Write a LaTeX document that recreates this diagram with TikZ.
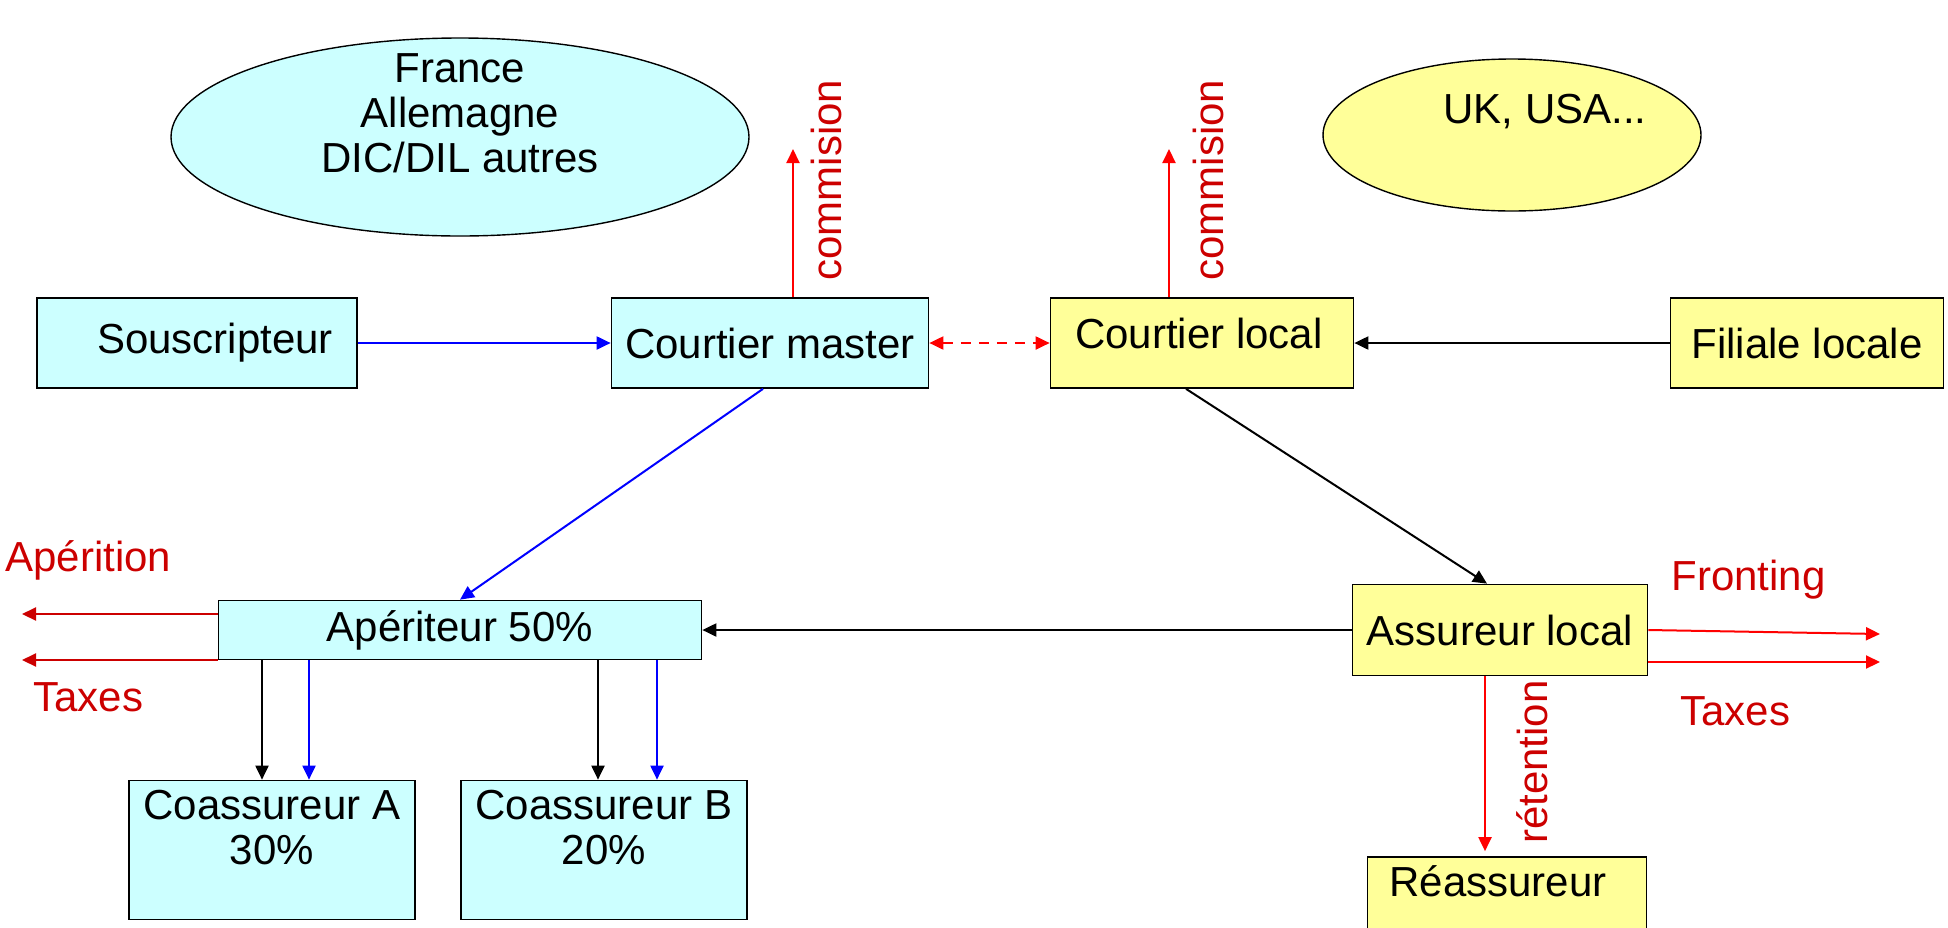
\documentclass[tikz,border=0pt]{standalone}
\usepackage{fontspec}
\setmainfont{Liberation Sans}
\usetikzlibrary{arrows.meta,shapes.geometric}
\definecolor{boxcyan}{HTML}{CCFFFF}
\definecolor{boxyellow}{HTML}{FFFF99}
\definecolor{txtred}{HTML}{CC0000}
\definecolor{arrred}{HTML}{FF0000}
\definecolor{arrblue}{HTML}{0000FF}
\begin{document}
\begin{tikzpicture}[x = 0.5pt, y = -0.5pt, font = \fontsize{21}{22.5}\selectfont,
		>= {Triangle[length=7pt, width=6.5pt]},
		box/.style = {draw, line width=0.85pt, inner sep=0pt, align=center},
		zone/.style = {draw, ellipse, line width=0.7pt, inner sep=0pt},
		flow/.style = {->, line width=1pt},
		lbl/.style = {text=txtred, inner sep=0pt}]
			\useasboundingbox (0,0) rectangle (1948,927);
			\node[zone, fill = boxcyan, minimum width = 289pt, minimum height = 99pt] (10) at (460,137) {};
			\node[align = center] (11) at (460,113) {France\\Allemagne\\DIC/DIL autres};
			\node[zone, fill = boxyellow, minimum width = 189pt, minimum height = 76pt] (12) at (1512,135) {};
			\node (13) at (1545,112) {UK, USA...};
			\node[box, fill = boxcyan, minimum width = 160pt, minimum height = 45pt] (1) at (197,343) {\hspace{18pt}Souscripteur};
			\node[box, fill = boxcyan, minimum width = 158.5pt, minimum height = 45pt] (2) at (770,343) {Courtier master};
			\node[box, fill = boxyellow, minimum width = 151.5pt, minimum height = 45pt, text depth = 10pt] (3) at (1202,343) {Courtier local\hspace{3pt}};
			\node[box, fill = boxyellow, minimum width = 136.5pt, minimum height = 45pt] (4) at (1807,343) {Filiale locale};
			\node[box, fill = boxcyan, minimum width = 241.5pt, minimum height = 29.5pt] (5) at (460,630) {Apériteur 50\%};
			\node[box, fill = boxcyan, minimum width = 143pt, minimum height = 69.5pt] (6) at (272,850) {Coassureur A\\30\%\\\mbox{}};
			\node[box, fill = boxcyan, minimum width = 143pt, minimum height = 69.5pt] (7) at (604,850) {Coassureur B\\20\%\\\mbox{}};
			\node[box, fill = boxyellow, minimum width = 147.5pt, minimum height = 45.5pt] (8) at (1500,630) {Assureur local};
			\node[box, fill = boxyellow, minimum width = 139.5pt, minimum height = 36pt, text depth = 12pt] (9) at (1507,893) {Réassureur\hspace{9pt}};
			\node[lbl, rotate = 90] (14) at (826,180) {commision};
			\node[lbl, rotate = 90] (15) at (1208,180) {commision};
			\node[lbl, rotate = 90] (16) at (1532,762) {rétention};
			\node[lbl, anchor = west] (17) at (5,560) {Apérition};
			\node[lbl, anchor = west] (18) at (33,697) {Taxes};
			\node[lbl, anchor = west] (19) at (1671,580) {Fronting};
			\node[lbl, anchor = west] (20) at (1680,711) {Taxes};
			\coordinate (c1) at (793,149);
			\coordinate (c2) at (1169,149);
			\coordinate (a1) at (22,614);
			\coordinate (a2) at (22,660);
			\coordinate (f1) at (1880,634);
			\coordinate (f2) at (1880,662);
			\coordinate (k1) at (262,0);
			\coordinate (k2) at (309,0);
			\coordinate (k3) at (598,0);
			\coordinate (k4) at (657,0);
			\coordinate (r1) at (1485,0);
			\draw[flow, arrblue] (1) -- (2);
			\draw[flow, <->, arrred, dash pattern = on 5pt off 4pt] (2) -- (3);
			\draw[flow] (4) -- (3);
			\draw[flow, arrblue] ([xshift = -3.5pt]2.south) -- (5.north);
			\draw[flow] ([xshift = -8pt]3.south) -- ([xshift = -6.5pt]8.north);
			\draw[flow] (8) -- (5);
			\draw[flow] (5.south -| k1) -- (6.north -| k1);
			\draw[flow, arrblue] (5.south -| k2) -- (6.north -| k2);
			\draw[flow] (5.south -| k3) -- (7.north -| k3);
			\draw[flow, arrblue] (5.south -| k4) -- (7.north -| k4);
			\draw[flow, arrred] (2.north -| c1) -- (c1);
			\draw[flow, arrred] (3.north -| c2) -- (c2);
			\draw[flow, txtred] (5.west |- a1) -- (a1);
			\draw[flow, txtred] (5.west |- a2) -- (a2);
			\draw[flow, arrred] (8.east) -- (f1);
			\draw[flow, arrred] (8.east |- f2) -- (f2);
			\draw[flow, arrred, shorten > = 2.5pt] (8.south -| r1) -- (9.north -| r1);
		\end{tikzpicture}
\end{document}
